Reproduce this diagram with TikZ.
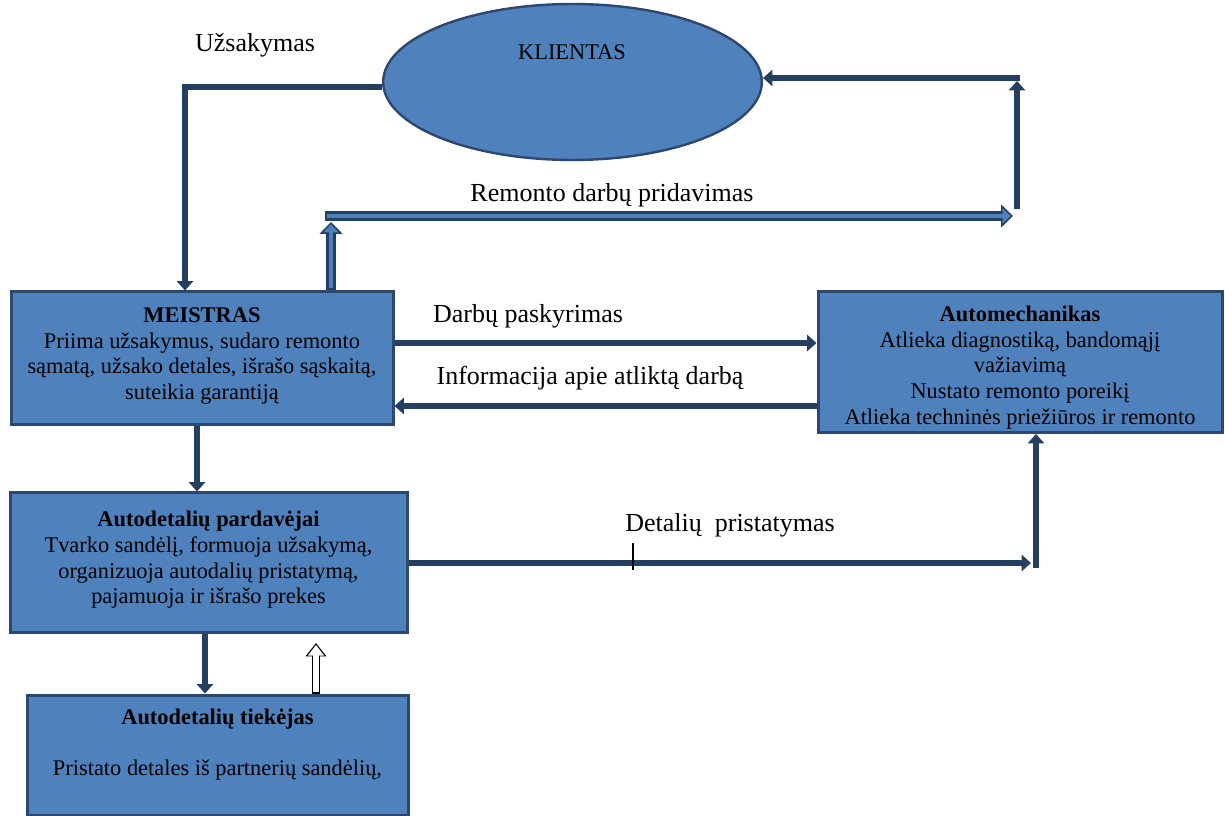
\documentclass[tikz,border=0pt]{standalone}
\usepackage{fontspec}
\setmainfont{Liberation Serif}
\usetikzlibrary{arrows.meta,shapes.geometric}
\definecolor{boxblue}{RGB}{79,129,189}
\definecolor{edgeblue}{RGB}{44,72,110}
\definecolor{arrowblue}{RGB}{36,63,96}
\tikzset{
  role/.style={draw=edgeblue, line width=2.25pt, fill=boxblue,
               align=center, inner sep=2pt,
               font=\fontsize{16.8}{19.2}\selectfont},
  client/.style={ellipse, draw=edgeblue, line width=1.8pt, fill=boxblue,
                 inner sep=0pt, minimum width=284pt, minimum height=117pt},
  boxtext/.style={font=\fontsize{16.8}{19.2}\selectfont},
  lab/.style={font=\fontsize{19.5}{22}\selectfont},
  flow/.style={draw=arrowblue, line width=4.5pt,
               -{Triangle[length=7pt,width=12pt]}},
  flowout/.style={draw=arrowblue, line width=7pt,
                  -{Triangle[length=9pt,width=17pt]}},
  flowin/.style={draw=boxblue, line width=3.5pt,
                 -{Triangle[length=6pt,width=11pt]},
                 shorten <=1.6pt, shorten >=1.8pt},
  hollowout/.style={draw=black, line width=6pt,
                    -{Triangle[length=10pt,width=15pt]}},
  hollowin/.style={draw=white, line width=4.5pt,
                   -{Triangle[length=8pt,width=11.5pt]},
                   shorten <=0.8pt, shorten >=1.4pt},
}

\begin{document}
\begin{tikzpicture}[x=0.75pt,y=-0.75pt]
  \path[use as bounding box] (0,0) rectangle (1225,816);

  % actors
  \node[client] (klientas) at (572.5,82) {};
  \node[boxtext] (kname) at (572,52) {KLIENTAS};

  \node[role, minimum width=286.5pt, minimum height=99.75pt] (meistras) at (202,358.5)
    {\textbf{MEISTRAS}\\
     Priima užsakymus, sudaro remonto\\
     sąmatą, užsako detales, išrašo sąskaitą,\\
     suteikia garantiją\\[-11.7pt]\mbox{}};
  \node[role, minimum width=303pt, minimum height=105.75pt] (mechanikas) at (1020,362)
    {\rule{0pt}{20pt}\textbf{Automechanikas}\\
     Atlieka diagnostiką, bandomąjį\\
     važiavimą\\
     Nustato remonto poreikį\\
     Atlieka techninės priežiūros ir remonto};
  \node[role, minimum width=297.75pt, minimum height=104.25pt] (pardavejai) at (208.5,562.5)
    {\textbf{Autodetalių pardavėjai}\\
     Tvarko sandėlį, formuoja užsakymą,\\
     organizuoja autodalių pristatymą,\\
     pajamuoja ir išrašo prekes\\[-11.7pt]\mbox{}};
  \node[role, minimum width=285.75pt, minimum height=90pt] (tiekejas) at (217.5,755)
    {\textbf{Autodetalių tiekėjas}\\[19.2pt]
     Pristato detales iš partnerių sandėlių,\\\mbox{}};

  % labels
  \node[lab] (l-uzs) at (255,45) {Užsakymas};
  \node[lab] (l-rem) at (612,195) {Remonto darbų pridavimas};
  \node[lab] (l-dp) at (528,316) {Darbų paskyrimas};
  \node[lab] (l-info) at (590,378) {Informacija apie atliktą darbą};
  \node[lab] (l-det) at (730,525) {Detalių\ \ pristatymas};

  % order from the client
  \coordinate (uzs) at (185,87);
  \draw[flow] (klientas.west |- uzs) -- (uzs) -- (uzs |- meistras.north);

  % handing the repair back
  \coordinate (remup) at (331,222);
  \draw[flowout] (remup |- meistras.north) -- (remup);
  \draw[flowin] (remup |- meistras.north) -- (remup);
  \coordinate (rem1) at (325,216);
  \coordinate (rem2) at (1013,216);
  \draw[flowout] (rem1) -- (rem2);
  \draw[flowin] (rem1) -- (rem2);
  \coordinate (kup1) at (1017,209);
  \coordinate (kup2) at (1017,81);
  \draw[flow] (kup1) -- (kup2);
  \coordinate (ktop) at (1020,78);
  \draw[flow] (ktop) -- (klientas.east |- ktop);

  % master <-> mechanic
  \coordinate (dp) at (600,343);
  \draw[flow] (meistras.east |- dp) -- (mechanikas.west |- dp);
  \coordinate (ia) at (600,406);
  \draw[flow] (mechanikas.west |- ia) -- (meistras.east |- ia);

  % parts
  \coordinate (mp) at (197,460);
  \draw[flow] (meistras.south -| mp) -- (pardavejai.north -| mp);
  \coordinate (pt) at (205,660);
  \draw[flow] (pardavejai.south -| pt) -- (tiekejas.north -| pt);
  \coordinate (ht) at (316,643);
  \draw[hollowout] (tiekejas.north -| ht) -- (ht);
  \draw[hollowin] (tiekejas.north -| ht) -- (ht);
  \coordinate (dt) at (1031,563);
  \draw[flow] (pardavejai.east |- dt) -- (dt);
  \coordinate (du) at (1036,568);
  \draw[flow] (du) -- (mechanikas.south -| du);
  \draw[black, line width=1.5pt] (633,543) -- (633,570);
\end{tikzpicture}
\end{document}
